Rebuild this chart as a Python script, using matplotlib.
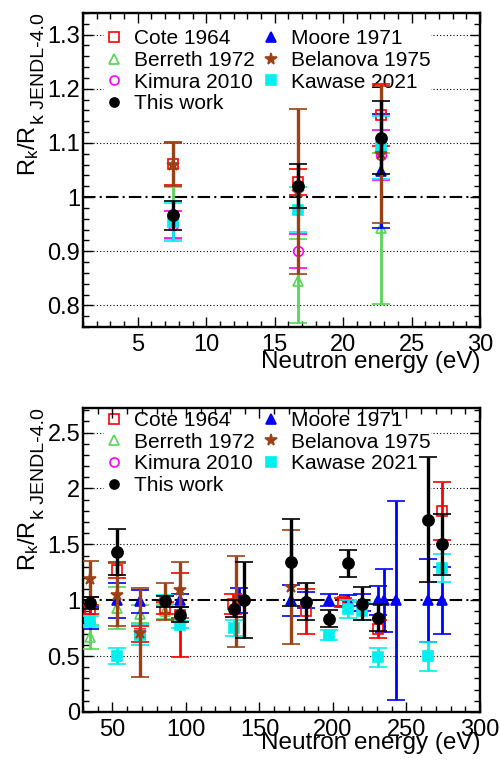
import numpy as np
import matplotlib
matplotlib.use('Agg')
import matplotlib.pyplot as plt
from matplotlib.lines import Line2D
from matplotlib.ticker import MultipleLocator, FormatStrFormatter

plt.rcParams['font.family'] = ['Liberation Sans', 'DejaVu Sans']
plt.rcParams['mathtext.fontset'] = 'custom'
plt.rcParams['mathtext.rm'] = 'Liberation Sans'
plt.rcParams['mathtext.it'] = 'Liberation Sans:italic'
plt.rcParams['mathtext.default'] = 'regular'

# ---------------- data: upper panel (< 30 eV) ----------------
top_cote_e     = [7.6, 16.7, 22.8]
top_cote_v     = [1.062, 1.028, 1.152]
top_cote_err   = [0.040, 0.024, 0.057]

top_berreth_e   = [7.6, 16.7, 22.8]
top_berreth_v   = [0.970, 0.845, 0.942]
top_berreth_err = [0.048, 0.077, 0.140]

top_kimura_e   = [7.6, 16.7, 22.8]
top_kimura_v   = [0.949, 0.900, 1.078]
top_kimura_err = [0.025, 0.031, 0.046]

top_moore_e    = [22.8]
top_moore_v    = [1.048]
top_moore_err  = [0.105]

top_belanova_e   = [7.6, 16.7, 22.8]
top_belanova_v   = [1.060, 1.010, 1.079]
top_belanova_err = [0.040, 0.152, 0.127]

top_kawase_e   = [7.6, 16.7, 22.8]
top_kawase_v   = [0.954, 0.977, 1.092]
top_kawase_err = [0.035, 0.041, 0.058]

top_this_e     = [7.6, 16.7, 22.8]
top_this_v     = [0.966, 1.021, 1.110]
top_this_err   = [0.027, 0.041, 0.068]

# ---------------- data: lower panel (30 - 300 eV) ----------------
bot_cote_e     = [34.8, 53.0, 68.5, 86.0, 96.3, 132.0, 181.6, 207.0, 230.6, 273.9]
bot_cote_v     = [0.92, 1.27, 0.70, 0.93, 0.87, 0.97, 0.90, 0.98, 0.74, 1.80]
bot_cote_err   = [0.04, 0.07, 0.07, 0.05, 0.375, 0.09, 0.20, 0.04, 0.08, 0.26]

bot_berreth_e   = [34.8, 53.0, 68.5, 86.0]
bot_berreth_v   = [0.67, 0.93, 0.88, 0.90]
bot_berreth_err = [0.11, 0.19, 0.08, 0.07]

bot_moore_e    = [34.8, 53.0, 68.5, 96.3, 136.0, 171.4, 181.6, 197.6, 210.0, 219.9, 230.6, 235.0, 243.1, 264.7, 273.9]
bot_moore_v    = [0.84, 1.00, 0.99, 1.00, 1.00, 1.00, 1.00, 1.00, 1.00, 0.98, 1.00, 1.00, 1.00, 1.00, 1.00]
bot_moore_err  = [0.10, 0.155, 0.10, 0.06, 0.11, 0.14, 0.07, 0.055, 0.05, 0.08, 0.13, 0.28, 0.89, 0.37, 0.30]

bot_belanova_e   = [34.8, 53.0, 68.5, 86.0, 96.3, 134.0, 171.4]
bot_belanova_v   = [1.19, 1.05, 0.71, 0.99, 1.09, 0.99, 1.12]
bot_belanova_err = [0.165, 0.28, 0.40, 0.165, 0.25, 0.41, 0.51]

bot_kawase_e   = [34.8, 53.0, 68.5, 86.0, 96.3, 132.7, 197.6, 210.0, 219.9, 230.6, 264.7, 273.9]
bot_kawase_v   = [0.81, 0.50, 0.69, 1.00, 0.78, 0.75, 0.69, 0.92, 0.90, 0.49, 0.50, 1.29]
bot_kawase_err = [0.05, 0.075, 0.095, 0.05, 0.03, 0.07, 0.045, 0.08, 0.08, 0.085, 0.13, 0.125]

bot_this_e     = [34.8, 53.0, 86.0, 96.3, 132.7, 139.5, 171.4, 181.6, 197.6, 210.0, 219.9, 230.6, 264.7, 273.9]
bot_this_v     = [0.975, 1.43, 0.99, 0.87, 0.925, 1.00, 1.34, 0.985, 0.835, 1.33, 0.97, 0.845, 1.72, 1.50]
bot_this_err   = [0.05, 0.205, 0.05, 0.065, 0.075, 0.34, 0.39, 0.165, 0.078, 0.12, 0.145, 0.12, 0.56, 0.27]

labels = ['Cote 1964', 'Berreth 1972', 'Kimura 2010', 'This work',
          'Moore 1971', 'Belanova 1975', 'Kawase 2021']

# style per series: color, marker, filled
styles = {
    'Cote 1964':     ('#ff0000', 's', False),
    'Berreth 1972':  ('#55d655', '^', False),
    'Kimura 2010':   ('#ff00ff', 'o', False),
    'Moore 1971':    ('#0000ff', '^', True),
    'Belanova 1975': ('#9c4114', '*', True),
    'Kawase 2021':   ('#00f0f0', 's', True),
    'This work':     ('#000000', 'o', True),
}
draw_order = ['Berreth 1972', 'Moore 1971', 'Kimura 2010', 'Cote 1964',
              'Kawase 2021', 'Belanova 1975', 'This work']


def draw_series(ax, name, e, v, err, z):
    c, m, filled = styles[name]
    ms = 8 if name == 'This work' else 7
    if m == '*':
        ms = 9
    elw = 2.4 if name in ('This work', 'Belanova 1975') else 2.0
    ax.errorbar(e, v, yerr=err, fmt=m, color=c, ecolor=c, elinewidth=elw,
                capsize=6.5, capthick=2.6, ms=ms,
                mfc=c if filled else 'none', mec=c, mew=1.2, zorder=z)


def setup_panel(ax, xlim, ylim, xmaj, xmin, ymaj, ymin, grid_vals, legend_y, xlab_y):
    ax.set_xlim(*xlim)
    ax.set_ylim(*ylim)
    ax.xaxis.set_major_locator(MultipleLocator(xmaj))
    ax.xaxis.set_minor_locator(MultipleLocator(xmin))
    ax.yaxis.set_major_locator(MultipleLocator(ymaj))
    ax.yaxis.set_minor_locator(MultipleLocator(ymin))
    ax.yaxis.set_major_formatter(FormatStrFormatter('%g'))
    ax.xaxis.set_major_formatter(FormatStrFormatter('%g'))
    ax.tick_params(which='both', direction='in', top=True, right=True, labelsize=17, width=1.0)
    ax.tick_params(which='major', length=7)
    ax.tick_params(which='minor', length=4)
    ax.tick_params(axis='x', pad=5)
    ax.tick_params(axis='y', pad=2)
    for s in ax.spines.values():
        s.set_linewidth(1.7)

    for g in grid_vals:
        ax.axhline(g, color='black', lw=0.8, ls=(0, (1, 2)), zorder=0.5)
    ax.axhline(1.0, color='black', lw=1.5, ls=(0, (6, 2, 1, 2)), zorder=0.6)

    ax.set_xlabel('Neutron energy (eV)', fontsize=17.5, loc='right')
    ax.xaxis.set_label_coords(1.0, xlab_y)

    handles = []
    for lab in labels:
        c, m, filled = styles[lab]
        ms = 6.5 if m != '*' else 8.5
        handles.append(Line2D([], [], ls='none', marker=m, color=c, ms=ms,
                              mfc=c if filled else 'none', mec=c, mew=1.2))
    leg = ax.legend(handles, labels, ncol=2, loc='upper left',
                    bbox_to_anchor=(0.052, legend_y), fontsize=15,
                    frameon=True, facecolor='white', edgecolor='none', framealpha=1,
                    fancybox=False, borderpad=0.0, handlelength=1.0,
                    handletextpad=0.45, columnspacing=0.3, labelspacing=0.13,
                    borderaxespad=0.0)
    leg.set_zorder(1)


def add_ylabel(fig, ax):
    # ROOT style title: R_k/R_{k JENDL-4.0}, right-aligned at top of the axis
    sub = ax.text(-0.098, 1.0, 'k JENDL-4.0', rotation=90, rotation_mode='anchor',
                  ha='right', va='baseline', fontsize=14, transform=ax.transAxes)
    fig.canvas.draw()
    bb = sub.get_window_extent()
    x_disp, _ = ax.transAxes.transform((-0.121, 0))
    xa, ya = ax.transAxes.inverted().transform((x_disp, bb.y0 - 1))
    ax.text(xa, ya, r'$R_k/R$', rotation=90, rotation_mode='anchor',
            ha='right', va='baseline', fontsize=17, transform=ax.transAxes)


fig = plt.figure(figsize=(5, 7.61), dpi=100)
ax1 = fig.add_axes([0.166, 0.5703, 0.794, 0.4126])
ax2 = fig.add_axes([0.166, 0.0644, 0.794, 0.3995])

setup_panel(ax1, (1, 30), (0.76, 1.34), 5, 1, 0.1, 0.02,
            [0.8, 0.9, 1.1, 1.2, 1.3], 0.948, -0.076)
setup_panel(ax2, (30, 300), (0, 2.72), 50, 10, 0.5, 0.1,
            [0.5, 1.5, 2.0, 2.5], 0.99, -0.066)

top_data = {
    'Cote 1964':     (top_cote_e, top_cote_v, top_cote_err),
    'Berreth 1972':  (top_berreth_e, top_berreth_v, top_berreth_err),
    'Kimura 2010':   (top_kimura_e, top_kimura_v, top_kimura_err),
    'Moore 1971':    (top_moore_e, top_moore_v, top_moore_err),
    'Belanova 1975': (top_belanova_e, top_belanova_v, top_belanova_err),
    'Kawase 2021':   (top_kawase_e, top_kawase_v, top_kawase_err),
    'This work':     (top_this_e, top_this_v, top_this_err),
}
bot_data = {
    'Cote 1964':     (bot_cote_e, bot_cote_v, bot_cote_err),
    'Berreth 1972':  (bot_berreth_e, bot_berreth_v, bot_berreth_err),
    'Moore 1971':    (bot_moore_e, bot_moore_v, bot_moore_err),
    'Belanova 1975': (bot_belanova_e, bot_belanova_v, bot_belanova_err),
    'Kawase 2021':   (bot_kawase_e, bot_kawase_v, bot_kawase_err),
    'This work':     (bot_this_e, bot_this_v, bot_this_err),
}

for i, name in enumerate(draw_order):
    if name in top_data:
        draw_series(ax1, name, *top_data[name], z=3 + i)
    if name in bot_data:
        draw_series(ax2, name, *bot_data[name], z=3 + i)

add_ylabel(fig, ax1)
add_ylabel(fig, ax2)

fig.savefig('out.png', dpi=100)
